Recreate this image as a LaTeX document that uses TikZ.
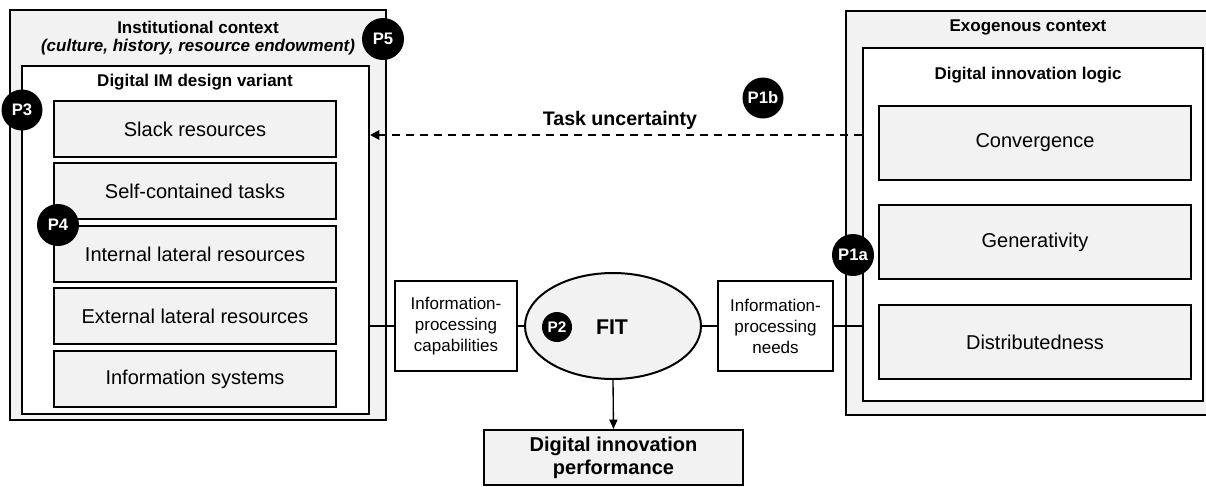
\documentclass[tikz,border=0pt]{standalone}
\usepackage{fontspec}
\setmainfont{Liberation Sans}
\usetikzlibrary{arrows.meta,shapes.geometric}
\definecolor{panel}{HTML}{F2F2F2}
\tikzset{
  frame/.style={draw=black, line width=1.5pt, inner sep=0pt},
  grayframe/.style={frame, fill=panel},
  whiteframe/.style={frame, fill=white},
  itembox/.style={grayframe, font=\fontsize{15}{18}\selectfont},
  titletext/.style={font=\bfseries\fontsize{12.75}{15}\selectfont, inner sep=0pt},
  smallbox/.style={whiteframe, align=center, font=\fontsize{12.75}{15.75}\selectfont},
  pbadge/.style={circle, fill=black, text=white, inner sep=0pt, font=\bfseries\fontsize{12.5}{14}\selectfont},
  link/.style={line width=1.5pt},
}
\begin{document}
\begin{tikzpicture}[x=0.75pt, y=-0.75pt]
\useasboundingbox (0,0) rectangle (1206,486);
\clip (0,0) rectangle (1206,486);

% ---------- left side: institutional context ----------
\node[grayframe, minimum width=376*0.75pt, minimum height=410*0.75pt] (inst) at (198,215) {};
\node[titletext] (instT) at (198,27) {Institutional context};
\node[titletext, font=\bfseries\itshape\fontsize{12.75}{15}\selectfont] (instS) at (198,47) {(culture, history, resource endowment)};

\node[whiteframe, minimum width=347*0.75pt, minimum height=348*0.75pt] (im) at (195.5,240) {};
\node[titletext] (imT) at (195,82) {Digital IM design variant};

\node[itembox, minimum width=282*0.75pt, minimum height=56*0.75pt] (slack) at (195,129) {Slack resources};
\node[itembox, minimum width=282*0.75pt, minimum height=56*0.75pt] (self) at (195,191) {Self-contained tasks};
\node[itembox, minimum width=282*0.75pt, minimum height=56*0.75pt] (intl) at (195,254) {Internal lateral resources};
\node[itembox, minimum width=282*0.75pt, minimum height=56*0.75pt] (extl) at (195,316) {External lateral resources};
\node[itembox, minimum width=282*0.75pt, minimum height=56*0.75pt] (isys) at (195,379) {Information systems};

% ---------- right side: exogenous context ----------
\node[grayframe, minimum width=369*0.75pt, minimum height=404*0.75pt] (exo) at (1030.5,213) {};
\node[titletext] (exoT) at (1028,27) {Exogenous context};

\node[whiteframe, minimum width=340*0.75pt, minimum height=353*0.75pt] (logic) at (1033,224.5) {};
\node[titletext] (logicT) at (1028,75) {Digital innovation logic};

\node[itembox, minimum width=312*0.75pt, minimum height=74*0.75pt] (conv) at (1035,143) {Convergence};
\node[itembox, minimum width=312*0.75pt, minimum height=74*0.75pt] (gen) at (1035,242) {Generativity};
\node[itembox, minimum width=312*0.75pt, minimum height=74*0.75pt] (dist) at (1035,342) {Distributedness};

% ---------- centre: fit ----------
\node[smallbox, minimum width=122*0.75pt, minimum height=90*0.75pt] (cap) at (456,326) {Information-\\processing\\capabilities};
\node[smallbox, minimum width=115*0.75pt, minimum height=90*0.75pt] (needs) at (775.5,326) {Information-\\processing\\needs};
\node[ellipse, grayframe, minimum width=176*0.75pt, minimum height=106*0.75pt] (fit) at (613,326) {};
\node[font=\bfseries\fontsize{16}{18}\selectfont, inner sep=0pt] (fitT) at (612,327) {FIT};
\node[grayframe, minimum width=259*0.75pt, minimum height=55*0.75pt, align=center,
      font=\bfseries\fontsize{15}{17.25}\selectfont] (perf) at (613.5,457.5) {Digital innovation\\performance};

% ---------- connectors ----------
\draw[link] (cap.west) -- (cap.west -| im.east);
\draw[link] (cap.east) -- (fit.west);
\draw[link] (fit.east) -- (needs.west);
\draw[link] (needs.east) -- (needs.east -| logic.west);
\draw[line width=1pt, -{Triangle[length=7pt, width=6pt]}] (fit.south) -- (perf.north);

\coordinate (tuR) at (logic.west |- 0,135);
\coordinate (tuL) at (im.east |- 0,135);
\draw[line width=1.5pt, dash pattern=on 6pt off 4.5pt, -{Triangle[length=7pt, width=7pt]}] (tuR) -- (tuL);
\node[font=\bfseries\fontsize{14.7}{17}\selectfont, inner sep=0pt] (tu) at (620,120) {Task uncertainty};

% ---------- proposition badges ----------
\node[pbadge, minimum size=42*0.75pt] (p5) at (383,39) {P5};
\node[pbadge, minimum size=41*0.75pt] (p3) at (22,110) {P3};
\node[pbadge, minimum size=42*0.75pt] (p4) at (58,225) {P4};
\node[pbadge, minimum size=30*0.75pt, font=\bfseries\fontsize{11.5}{13}\selectfont] (p2) at (557,327) {P2};
\node[pbadge, minimum size=42*0.75pt] (p1a) at (853,255) {P1a};
\node[pbadge, minimum size=41*0.75pt] (p1b) at (763,98) {P1b};
\end{tikzpicture}
\end{document}
